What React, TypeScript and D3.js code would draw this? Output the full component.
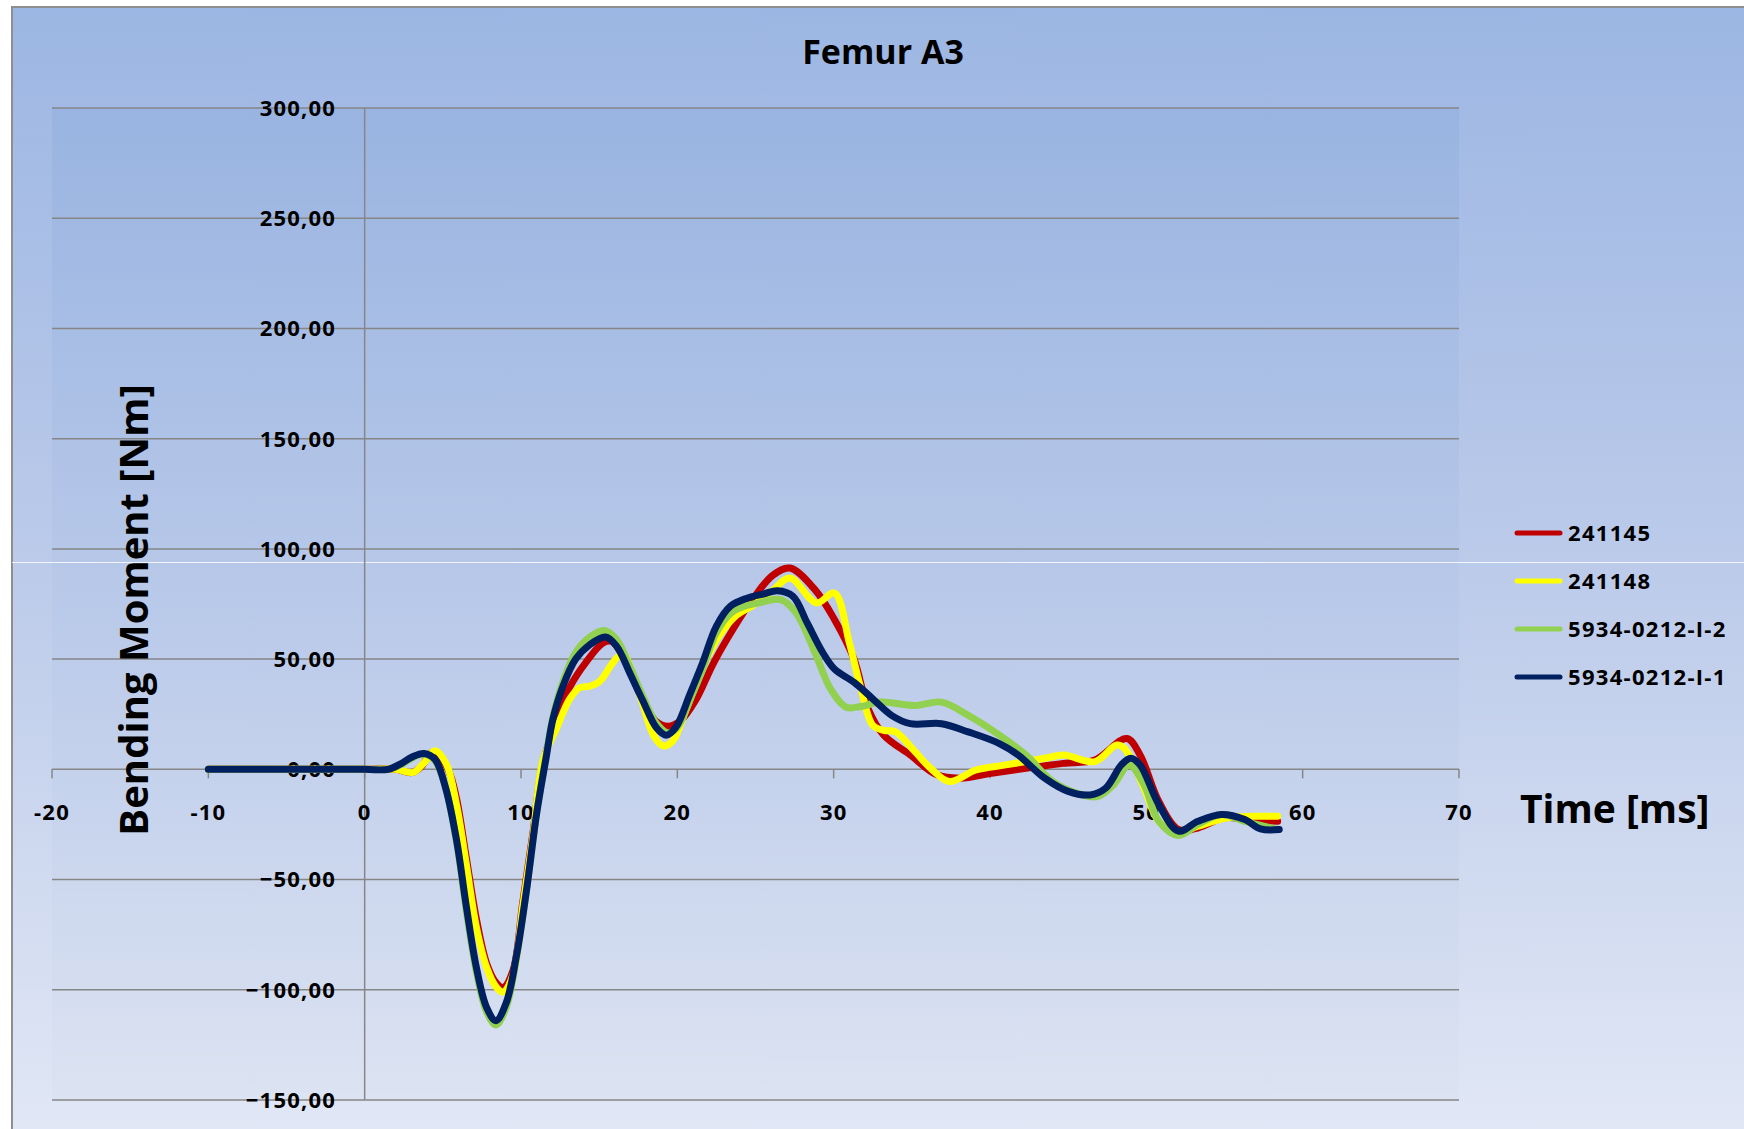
import React from "react";
import * as d3 from "d3";

const chartTitle = "Femur A3";
const yAxisTitle = "Bending Moment [Nm]";
const xAxisTitle = "Time [ms]";

const xTicks = [-20, -10, 0, 10, 20, 30, 40, 50, 60, 70];
const yTicks = [-150, -100, -50, 0, 50, 100, 150, 200, 250, 300];

const seriesNames = ["241145", "241148", "5934-0212-I-2", "5934-0212-I-1"];
const seriesColors = ["#c00000", "#ffff00", "#92d050", "#002060"];

// [time ms, bending moment Nm]
const s241145: [number, number][] = [
  [-10, 0], [-5, 0], [0, 0], [2, 0], [3.0, -1.5], [3.6, 1], [4.3, 7.5], [5.0, 4], [5.5, -3], [5.9, -14],
  [6.5, -40], [7.15, -68], [7.8, -88], [8.43, -97], [8.86, -99], [9.5, -91], [10.1, -61], [10.78, -28],
  [11.4, 3], [12.3, 22], [13.1, 37], [14.2, 49], [15.25, 57.3], [15.8, 58], [16.3, 54], [17, 44],
  [17.8, 31], [18.6, 22], [19.4, 19.5], [20.2, 22], [21.2, 31.7], [22.3, 48], [23.6, 64], [24.85, 77.5],
  [26.1, 88], [27.2, 91.3], [28.8, 81.5], [30.05, 68], [31.3, 50], [32.2, 27.5], [33.2, 15.5],
  [34.9, 6.5], [36.6, -2.5], [38.1, -4], [40.1, -1.8], [42.3, 0.5], [44.7, 2.7], [46.7, 4.2],
  [48.75, 14], [49.6, 6.5], [50.8, -14.6], [52.05, -27.3], [53.3, -26.6], [55, -22], [56.5, -22.8],
  [58.4, -23.6],
];

const s241148: [number, number][] = [
  [-10, 0], [-5, 0], [0, 0], [2, 0], [3.1, -1.4], [3.8, 3], [4.5, 8.4], [5.23, 2.3], [5.87, -15.8],
  [6.5, -43], [7.15, -71.7], [7.8, -89.8], [8.43, -98.9], [8.86, -101], [9.5, -92.8], [10.1, -62.6],
  [10.78, -29.4], [11.4, 3.9], [12.3, 19], [13.1, 31.7], [13.75, 37], [14.4, 37.7], [15.05, 40],
  [15.7, 46.6], [16.2, 51], [16.6, 52], [17, 46], [17.8, 29.3], [18.45, 15.8], [19.1, 10.6],
  [19.7, 12.8], [20.6, 27.8], [21.6, 45.9], [22.7, 60.9], [23.8, 70], [24.85, 74.4], [26.1, 81.2],
  [27.2, 86.8], [28.9, 75.5], [30.05, 80], [31, 57.5], [31.75, 36.5], [32.5, 20], [33.2, 17.7],
  [33.96, 17], [35.2, 8], [36.2, 0.5], [37.4, -5.5], [39.1, -0.3], [41, 2], [43.5, 5], [44.7, 6.5],
  [46.7, 3.5], [48.1, 11], [48.6, 9.5], [49.85, -8.5], [50.8, -23.6], [52.05, -28.8], [53.3, -25.8],
  [55.2, -22], [56.9, -21.3], [58.4, -21.3],
];

const s5934_2: [number, number][] = [
  [-10, 0], [-5, 0], [0, 0], [1.5, 0], [2.3, 2], [3.0, 5], [3.8, 7], [4.5, 4], [5.2, -9], [5.9, -34],
  [6.5, -64], [7.15, -92], [7.8, -110], [8.4, -116], [9.05, -108], [9.7, -86], [10.35, -55],
  [11.0, -20], [11.6, 6], [12.05, 24], [12.7, 40], [13.5, 53], [14.4, 60], [15.3, 63], [16.1, 59],
  [17, 46], [17.8, 33], [18.65, 21], [19.4, 16.5], [20, 19], [20.9, 33], [21.6, 45], [22.5, 62],
  [23.45, 71], [24.3, 74], [25.2, 75.5], [26.6, 77], [27.6, 71], [28.8, 53], [29.8, 36.5],
  [30.8, 28.2], [31.75, 28.5], [33, 30.5], [35.2, 29], [36.9, 30.5], [38.6, 24.5], [40.6, 15.5],
  [42.3, 6.5], [44, -5.5], [45.9, -11.6], [46.9, -12.3], [47.9, -7], [48.9, 2], [49.85, -7],
  [50.8, -23.6], [52.05, -30], [53.3, -25], [54.8, -20.5], [56.3, -23.6], [58.4, -27.3],
];

const s5934_1: [number, number][] = [
  [-10, 0], [-5, 0], [0, 0], [1.5, 0], [2.3, 2.5], [3.0, 5.5], [3.8, 7.2], [4.5, 4.5], [5.2, -9],
  [5.9, -33], [6.5, -62], [7.15, -90], [7.8, -108], [8.4, -114], [9.05, -106], [9.7, -85],
  [10.35, -55], [11.0, -20], [11.6, 5], [12.05, 23], [12.7, 38], [13.5, 50], [14.4, 56.5],
  [15.4, 60], [16.1, 56], [17, 43], [17.8, 31], [18.65, 19], [19.3, 15.5], [19.9, 19], [20.8, 34],
  [21.6, 48], [22.5, 65], [23.4, 74], [24.4, 77.5], [25.5, 79.5], [26.4, 81], [27.4, 78.5],
  [28.3, 66.5], [29.3, 53], [30.05, 45.5], [31.3, 39.5], [32.5, 32], [33.7, 24.5], [34.9, 20.7],
  [36.9, 20.7], [38.6, 17], [40.6, 11.7], [41.8, 6.5], [43.5, -4], [45, -10], [46.4, -11.6],
  [47.4, -8.5], [48.4, 2], [49, 5], [49.6, 2], [50.8, -16], [52.05, -28], [53.3, -23.6],
  [54.8, -20.5], [56.3, -22.8], [57.3, -27], [58.5, -27.3],
];

const seriesData = [s241145, s241148, s5934_2, s5934_1];

const W = 1744;
const H = 1129;
const plot = { left: 52, right: 1459, top: 108, bottom: 1100 };
const font = "'Open Sans', 'Noto Sans', sans-serif";

const fmt = (v: number) => d3.format(".2f")(v).replace(".", ",");

export default function App() {
  const x = d3.scaleLinear().domain([-20, 70]).range([plot.left, plot.right]);
  const y = d3.scaleLinear().domain([-150, 300]).range([plot.bottom, plot.top]);
  const line = d3
    .line<[number, number]>()
    .x((d) => x(d[0]))
    .y((d) => y(d[1]))
    .curve(d3.curveCatmullRom.alpha(0.5));

  const y0 = y(0);
  const x0 = x(0);
  const gridColor = "#868686";

  return (
    <svg
      width={W}
      height={H}
      style={{ position: "absolute", left: 0, top: 0, background: "#ffffff" }}
    >
      <defs>
        <linearGradient id="chartBg" x1="0" y1="0" x2="0" y2="1">
          <stop offset="0" stopColor="#9cb6e3" />
          <stop offset="0.5" stopColor="#bccbea" />
          <stop offset="1" stopColor="#e1e7f5" />
        </linearGradient>
        <linearGradient id="plotBg" gradientUnits="userSpaceOnUse" x1="0" y1={plot.top} x2="0" y2={plot.bottom}>
          <stop offset="0" stopColor="#99b4e1" />
          <stop offset="0.5" stopColor="#b9c9e9" />
          <stop offset="1" stopColor="#dce3f2" />
        </linearGradient>
      </defs>

      <rect x={12} y={7} width={W} height={H} fill="url(#chartBg)" stroke="#8e8e8e" strokeWidth={2} />
      <rect
        x={plot.left}
        y={plot.top}
        width={plot.right - plot.left}
        height={plot.bottom - plot.top}
        fill="url(#plotBg)"
      />
      <line x1={12} x2={W} y1={562.5} y2={562.5} stroke="#ffffff" strokeOpacity={0.8} strokeWidth={1} />

      {/* horizontal gridlines */}
      {yTicks.map((t) => (
        <line key={"g" + t} x1={plot.left} x2={plot.right} y1={y(t)} y2={y(t)} stroke={gridColor} strokeWidth={1.5} />
      ))}
      {/* vertical axis at x = 0 */}
      <line x1={x0} x2={x0} y1={plot.top} y2={plot.bottom} stroke={gridColor} strokeWidth={1.5} />
      {/* x-axis tick marks */}
      {xTicks.map((t) => (
        <line key={"xt" + t} x1={x(t)} x2={x(t)} y1={y0} y2={y0 + 9} stroke={gridColor} strokeWidth={1.5} />
      ))}

      {/* y tick labels */}
      {yTicks.map((t) => (
        <text
          key={"yl" + t}
          x={336}
          y={y(t)}
          dy="0.36em"
          textAnchor="end"
          fontFamily={font}
          fontWeight={700}
          fontSize={22}
          letterSpacing={1.2}
          fill="#000"
        >
          {fmt(t)}
        </text>
      ))}
      {/* x tick labels */}
      {xTicks.map((t) => (
        <text
          key={"xl" + t}
          x={x(t)}
          y={y0 + 43}
          dy="0.36em"
          textAnchor="middle"
          fontFamily={font}
          fontWeight={700}
          fontSize={22}
          letterSpacing={1.2}
          fill="#000"
        >
          {t}
        </text>
      ))}

      {/* series */}
      {seriesData.map((d, i) => (
        <path
          key={"s" + i}
          d={line(d) || ""}
          fill="none"
          stroke={seriesColors[i]}
          strokeWidth={7}
          strokeLinejoin="round"
          strokeLinecap="round"
        />
      ))}

      {/* title */}
      <text x={883} y={64} textAnchor="middle" fontFamily={font} fontWeight={700} fontSize={34} fill="#000">
        {chartTitle}
      </text>

      {/* axis titles */}
      <text
        transform={`translate(148, 610) rotate(-90)`}
        textAnchor="middle"
        fontFamily={font}
        fontWeight={700}
        fontSize={40}
        fill="#000"
      >
        {yAxisTitle}
      </text>
      <text x={1520} y={823} fontFamily={font} fontWeight={700} fontSize={39} fill="#000">
        {xAxisTitle}
      </text>

      {/* legend */}
      {seriesNames.map((n, i) => {
        const ly = 533 + i * 48;
        return (
          <g key={"lg" + i}>
            <line x1={1517} x2={1560} y1={ly} y2={ly} stroke={seriesColors[i]} strokeWidth={5} strokeLinecap="round" />
            <text
              x={1568}
              y={ly}
              dy="0.36em"
              fontFamily={font}
              fontWeight={700}
              fontSize={22}
              letterSpacing={1.3}
              fill="#000"
            >
              {n}
            </text>
          </g>
        );
      })}
    </svg>
  );
}
